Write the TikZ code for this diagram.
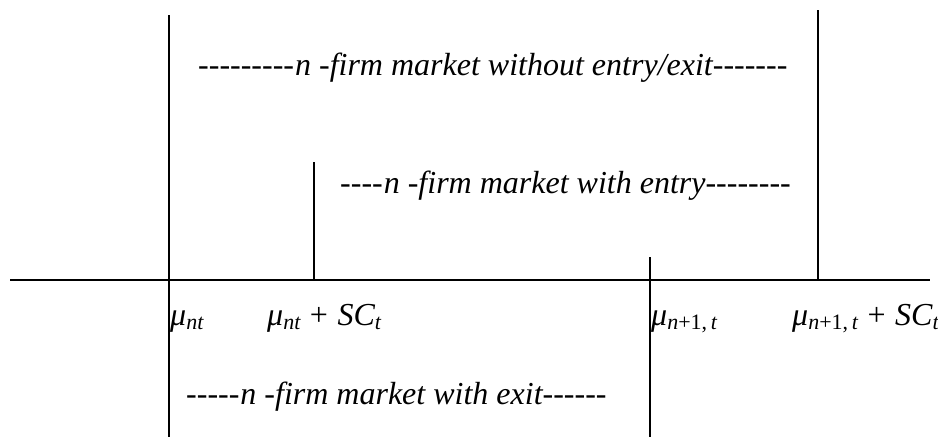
\documentclass[tikz,border=0pt]{standalone}
\usepackage{fontspec}
\setmainfont{Liberation Serif}[Ligatures=TeXOff]
\newcommand{\lbfs}{\fontsize{32}{36}\selectfont\itshape}
\newcommand{\mylow}[1]{\raisebox{-0.15em}{\fontsize{22}{23}\selectfont\itshape #1}}
\newcommand{\plsp}{\hspace{0.3em}{\upshape +}\hspace{0.3em}}
\begin{document}
\begin{tikzpicture}[x=1pt,y=-1pt,
  ln/.style={line width=1.6pt},
  lbl/.style={anchor=base west,inner sep=0pt,font=\lbfs},
  ml/.style={anchor=base west,inner sep=0pt,font=\fontsize{32}{36}\selectfont\itshape}]
\useasboundingbox (0,0) rectangle (938,442);
% axis
\coordinate (axL) at (10,280);
\coordinate (axR) at (930,280);
\draw[ln] (axL) -- (axR);
% verticals
\coordinate (v1t) at (169,15);
\coordinate (v1b) at (169,437);
\draw[ln] (v1t) -- (v1b);
\coordinate (v2t) at (314,162);
\coordinate (v2b) at (314,280);
\draw[ln] (v2t) -- (v2b);
\coordinate (v3t) at (650,257);
\coordinate (v3b) at (650,437);
\draw[ln] (v3t) -- (v3b);
\coordinate (v4t) at (818,10);
\coordinate (v4b) at (818,280);
\draw[ln] (v4t) -- (v4b);
% texts
\node[lbl] (t1) at (198,75) {---------\hspace{1pt}n -firm market without entry/exit-------};
\node[lbl] (t2) at (340,193) {----\hspace{1pt}n -firm market with entry--------};
\node[lbl] (t3) at (186,404) {-----\hspace{1pt}n -firm market with exit------};
% labels
\node[ml] (m1) at (170,325) {μ\mylow{nt}};
\node[ml] (m2) at (267,325) {μ\mylow{nt}\plsp SC\mylow{t}};
\node[ml] (m3) at (651,325) {μ\mylow{n{\upshape +1,}\,t}};
\node[ml] (m4) at (792,325) {μ\mylow{n{\upshape +1,}\,t}\plsp SC\mylow{t}};
\end{tikzpicture}
\end{document}
